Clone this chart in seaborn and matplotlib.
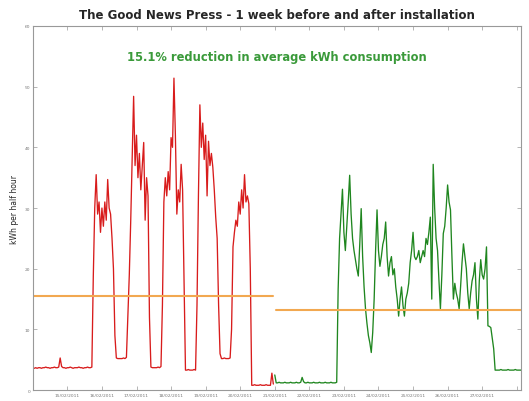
import matplotlib
matplotlib.use('Agg')
import matplotlib.pyplot as plt
import seaborn as sns
import pandas as pd

# Half-hourly consumption at roughly one value per hour
# week before installation (hours 0-167)
before_kwh = [
    3.6, 3.6, 3.7, 3.6, 3.7, 3.7, 3.6, 3.7, 3.7, 3.8, 3.7, 3.7, 3.6, 3.7, 3.7, 3.8, 3.7, 3.7, 3.8, 5.3,
    3.9, 3.7, 3.7, 3.6, 3.7, 3.7, 3.8, 3.7, 3.6, 3.7, 3.7, 3.7, 3.8, 3.7, 3.7, 3.6, 3.7, 3.7, 3.8, 3.7,
    3.7, 3.8,
    # day 1
    18.7, 30, 35.5, 29, 31, 26, 30, 27, 31, 28, 34.7, 30, 29, 25, 20, 9,
    5.3, 5.2, 5.2, 5.2, 5.2, 5.3, 5.2, 5.4,
    # day 2
    12, 19, 28, 38, 48.4, 37, 42, 35, 39, 33, 37, 40.8, 28, 35, 32, 12,
    3.8, 3.7, 3.7, 3.7, 3.7, 3.8, 3.7, 3.9,
    # day 3
    14, 31, 35, 32, 36, 33, 41.6, 40, 51.4, 42, 29, 33, 31, 37.2, 33, 18,
    3.3, 3.3, 3.4, 3.3, 3.3, 3.3, 3.4, 3.3,
    # day 4
    14, 32, 47, 40, 44, 38, 42, 32, 41, 37, 39, 36.7, 33, 28.5, 25, 14, 6,
    5.2, 5.2, 5.3, 5.2, 5.2, 5.2, 5.3,
    # day 5
    10, 23.6, 26, 28, 27, 31, 29, 33, 30, 35.5, 31, 32, 30.7, 20,
    0.8, 0.8, 0.9, 0.8, 0.8, 0.8, 0.9, 0.8, 0.8, 0.8, 0.9, 0.8, 0.8, 0.8,
    2.8, 1.0,
]

# week after installation (hours 168-339)
after_kwh = [
    2.5, 1.2, 1.2, 1.3, 1.2, 1.2, 1.2, 1.3, 1.2, 1.2, 1.2, 1.3, 1.2, 1.2, 1.2, 1.3, 1.2, 1.2, 1.3, 2.1,
    1.4, 1.2, 1.2, 1.3, 1.2, 1.2, 1.2, 1.3, 1.2, 1.2, 1.2, 1.3, 1.2, 1.2, 1.2, 1.3, 1.2, 1.2, 1.2, 1.3,
    1.2, 1.2, 1.2, 1.3,
    16.6, 25, 29, 33.1, 26, 23, 27, 31, 35.4, 29, 25, 23, 21.5, 20, 18.8, 24, 29.9, 22, 17, 13.4,
    11, 9, 7.8, 6.2, 9.5, 15, 23, 29.7, 23, 20.4, 22, 24, 25, 27.7, 22, 18.8, 21, 22, 19, 20,
    17, 15, 12.2, 15, 17, 14, 12.2, 15, 16, 17.6, 21, 23, 26, 22, 21.5, 22, 23, 21, 22, 23,
    22, 25, 24, 26, 28.5, 15, 37.2, 30, 25, 23, 18, 13.4, 19, 25.8, 27, 30, 33.8, 31, 29.7, 22,
    15, 17.6, 16, 15, 13.4, 17, 21, 24.1, 22, 20, 16, 13.4, 16, 18, 19, 21, 15, 11.7, 18, 21.5,
    19, 18.3, 20, 23.6, 10.6, 10.5, 10.3, 8.5, 6.8, 3.3,
    3.3, 3.3, 3.3, 3.4, 3.3, 3.3, 3.3, 3.3, 3.4, 3.3, 3.3, 3.3, 3.3, 3.4, 3.3, 3.3, 3.3, 3.3,
]

avg_before = 15.5
avg_after = 13.16

day_labels = ['15/02/2011', '16/02/2011', '17/02/2011', '18/02/2011', '19/02/2011',
              '20/02/2011', '21/02/2011', '22/02/2011', '23/02/2011', '24/02/2011',
              '25/02/2011', '26/02/2011', '27/02/2011', '28/02/2011']

before_df = pd.DataFrame({'hour': range(len(before_kwh)), 'kwh': before_kwh})
after_df = pd.DataFrame({'hour': range(len(before_kwh), len(before_kwh) + len(after_kwh)),
                         'kwh': after_kwh})

sns.set_style('ticks')
fig = plt.figure(figsize=(5.29, 4.02), dpi=100)
ax = fig.add_axes([0.062, 0.027, 0.923, 0.906])

sns.lineplot(data=before_df, x='hour', y='kwh', color='#d81c1c', linewidth=0.95, ax=ax)
sns.lineplot(data=after_df, x='hour', y='kwh', color='#1f861f', linewidth=0.95, ax=ax)

# average lines for each week
ax.plot([before_df['hour'].min(), before_df['hour'].max()], [avg_before, avg_before],
        color='#f2a850', linewidth=1.5)
ax.plot([after_df['hour'].min() + 1, after_df['hour'].max()], [avg_after, avg_after],
        color='#f2a850', linewidth=1.5)

ax.set_xlim(0, after_df['hour'].max())
ax.set_ylim(0, 60)
ax.set_yticks([0, 10, 20, 30, 40, 50, 60])
ax.set_xticks(range(0, 24 * 15, 24))
ax.set_xticklabels([''] + day_labels[:-1] + [''])
ax.tick_params(axis='both', direction='in', length=3, width=0.5, color='#999999',
               labelsize=3.2, labelcolor='#777777', top=True, right=True, pad=2)
ax.tick_params(axis='x', pad=2)
for s in ax.spines.values():
    s.set_color('#999999')
    s.set_linewidth(0.8)

ax.set_xlabel('')
ax.set_ylabel('kWh per half hour', fontsize=5.5, labelpad=4)
ax.set_title('The Good News Press - 1 week before and after installation',
             fontsize=8.5, fontweight='bold', pad=6)
ax.text(0.5, 0.915, '15.1% reduction in average kWh consumption', transform=ax.transAxes,
        ha='center', va='center', color='#3a9a3a', fontsize=8.3, fontweight='bold')

plt.savefig('out.png', dpi=100)
print('done')
